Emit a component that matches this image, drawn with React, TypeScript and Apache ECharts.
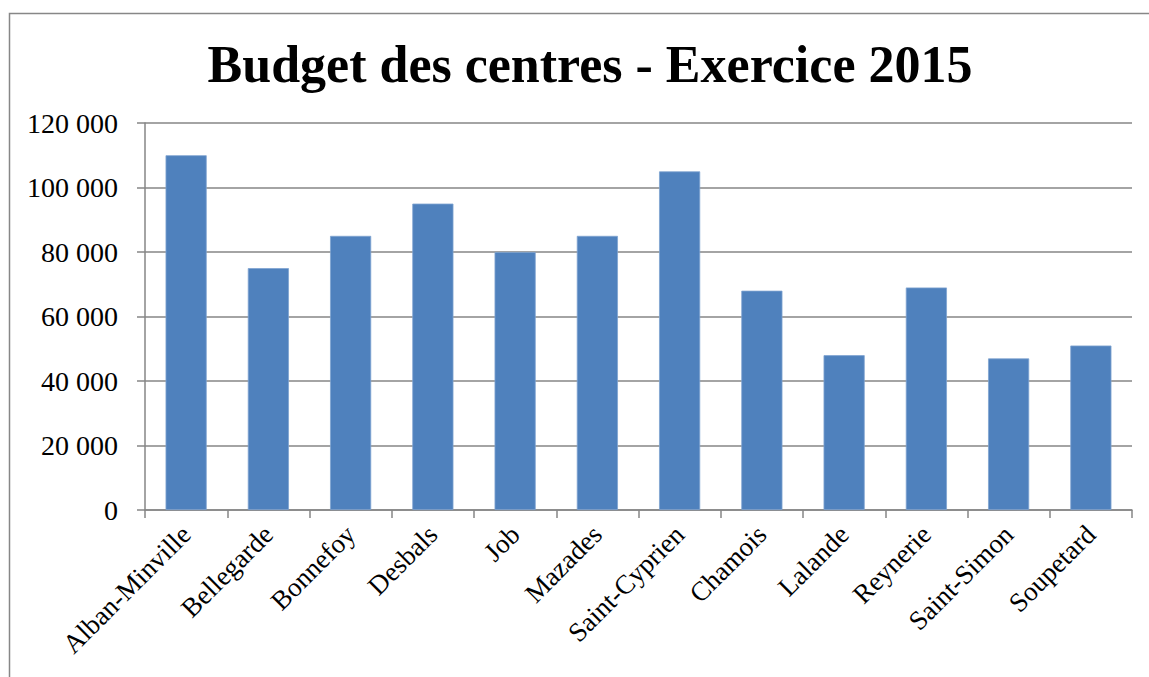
import React, { useEffect, useRef } from "react";
import * as echarts from "echarts";

const TITLE = "Budget des centres - Exercice 2015";
const categories = [
  "Alban-Minville", "Bellegarde", "Bonnefoy", "Desbals", "Job", "Mazades",
  "Saint-Cyprien", "Chamois", "Lalande", "Reynerie", "Saint-Simon", "Soupetard",
];
const budgets = [110000, 75000, 85000, 95000, 80000, 85000, 105000, 68000, 48000, 69000, 47000, 51000];
const yTicks = { min: 0, max: 120000, interval: 20000 };

const fmt = (v: number) => {
  const s = String(Math.round(v));
  return s.replace(/\B(?=(\d{3})+(?!\d))/g, " ");
};

export default function App() {
  const ref = useRef<HTMLDivElement>(null);
  useEffect(() => {
    if (!ref.current) return;
    const chart = echarts.init(ref.current, null, { renderer: "svg" });
    const font = "'Liberation Serif', 'Times New Roman', serif";
    chart.setOption({
      animation: false,
      backgroundColor: "#ffffff",
      title: {
        text: TITLE,
        left: 585,
        top: 33,
        textAlign: "center",
        textStyle: { fontFamily: font, fontSize: 52, fontWeight: "bold", color: "#000" },
      },
      graphic: [
        {
          type: "rect",
          shape: { x: 9.5, y: 13.5, width: 1300, height: 800 },
          style: { fill: "none", stroke: "#878787", lineWidth: 1.5 },
          silent: true,
        },
      ],
      grid: { left: 145, right: 17, top: 123, bottom: 167, containLabel: false },
      xAxis: {
        type: "category",
        data: categories,
        boundaryGap: true,
        axisLine: { show: true, lineStyle: { color: "#868686", width: 1.5 } },
        axisTick: { show: true, length: 8, alignWithLabel: false, lineStyle: { color: "#868686", width: 1.5 } },
        axisLabel: {
          rotate: 45,
          margin: 20,
          interval: 0,
          fontFamily: font,
          fontSize: 27,
          color: "#000",
        },
      },
      yAxis: {
        type: "value",
        min: yTicks.min,
        max: yTicks.max,
        interval: yTicks.interval,
        axisLine: { show: true, lineStyle: { color: "#868686", width: 1.5 } },
        axisTick: { show: true, length: 8, lineStyle: { color: "#868686", width: 1.5 } },
        splitLine: { show: true, lineStyle: { color: "#868686", width: 1.5 } },
        axisLabel: {
          margin: 27,
          fontFamily: font,
          fontSize: 28,
          color: "#000",
          formatter: (v: number) => fmt(v),
        },
      },
      series: [
        {
          type: "bar",
          data: budgets,
          barWidth: "50%",
          itemStyle: { color: "#4F81BD", borderColor: "#7FA3D0", borderWidth: 0.8 },
        },
      ],
    });
    return () => chart.dispose();
  }, []);
  return (
    <div
      ref={ref}
      style={{ position: "fixed", left: 0, top: 0, width: 1149, height: 677 }}
    />
  );
}
